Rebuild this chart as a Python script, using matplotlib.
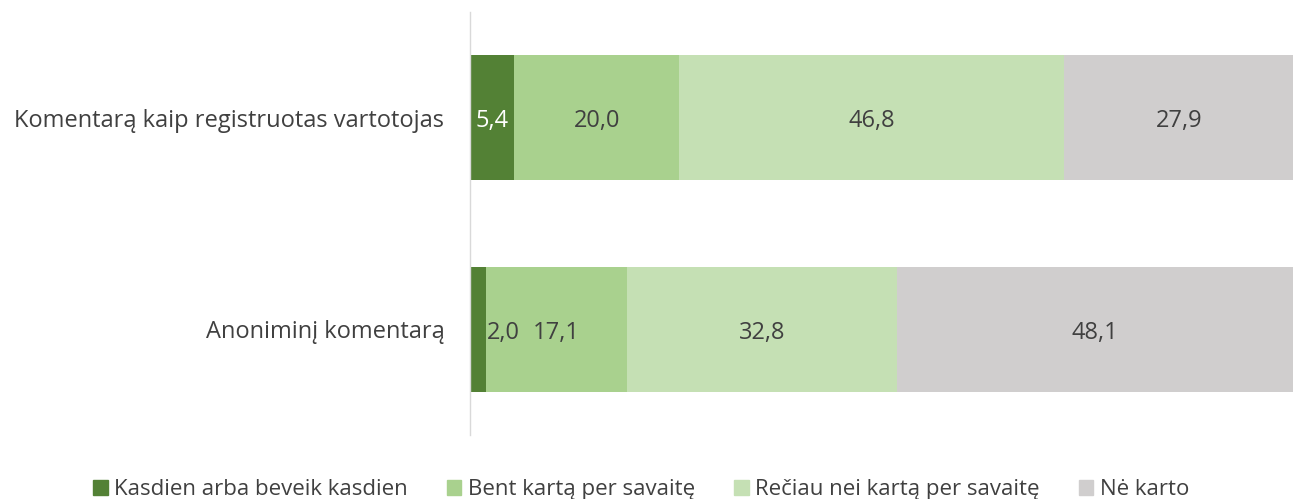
import matplotlib.pyplot as plt
import matplotlib.patches as mpatches

plt.rcParams['font.family'] = ['Open Sans', 'DejaVu Sans']

categories = ['Anoniminį komentarą', 'Komentarą kaip registruotas vartotojas']
series_names = ['Kasdien arba beveik kasdien', 'Bent kartą per savaitę',
                'Rečiau nei kartą per savaitę', 'Nė karto']
values = [
    [2.0, 5.4],
    [17.1, 20.0],
    [32.8, 46.8],
    [48.1, 27.9],
]
colors = ['#538135', '#A9D18E', '#C5E0B4', '#D0CECE']
label_colors = ['white', '#404040', '#404040', '#404040']

fig = plt.figure(figsize=(12.94, 4.99), dpi=100)
ax = fig.add_axes([0.3632, 0.128, 0.636, 0.848])

left = [0.0, 0.0]
for i, name in enumerate(series_names):
    ax.barh([0, 1], values[i], left=left, height=0.59, color=colors[i],
            edgecolor='none', label=name)
    for j, v in enumerate(values[i]):
        txt = f'{v:.1f}'.replace('.', ',')
        if v < 3:
            # small segment: label sits just to the right
            ax.text(left[j] + v + 0.1, j - 0.015, txt, ha='left', va='center',
                    fontsize=17, color='#404040')
        else:
            ax.text(left[j] + v / 2, j - 0.015, txt, ha='center', va='center',
                    fontsize=17, color=label_colors[i])
        left[j] += v

ax.set_xlim(0, 100)
ax.set_ylim(-0.5, 1.5)
ax.set_yticks([0, 1])
ax.set_yticklabels(categories, fontsize=17, color='#404040')
ax.tick_params(axis='y', length=0, pad=18.5)
ax.set_xticks([])
for s in ['top', 'right', 'bottom']:
    ax.spines[s].set_visible(False)
ax.spines['left'].set_color('#D9D9D9')
ax.spines['left'].set_linewidth(1)

handles = [mpatches.Patch(color=c, label=n) for c, n in zip(colors, series_names)]
fig.legend(handles=handles, loc='lower center', bbox_to_anchor=(0.4955, -0.042),
           ncol=4, frameon=False, fontsize=16, handlelength=0.65,
           handleheight=0.65, handletextpad=0.3, columnspacing=1.75,
           labelcolor='#404040')

fig.savefig('out.png', dpi=100)
